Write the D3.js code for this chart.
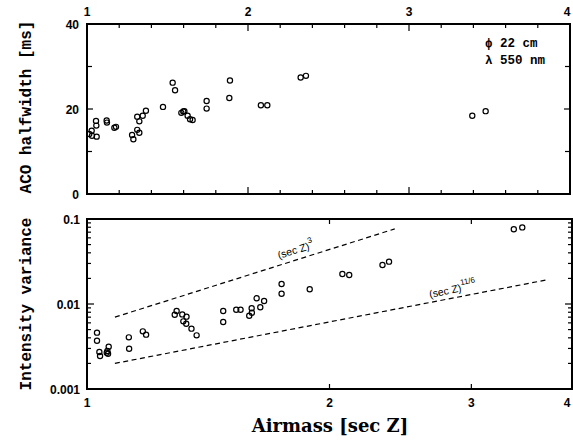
<!DOCTYPE html>
<html><head><meta charset="utf-8">
<script src="https://cdn.jsdelivr.net/npm/d3@7"></script>
<style>body{margin:0;background:#fff}svg{display:block}</style>
</head><body>
<script>
// Top panel: ACO halfwidth [ms] vs airmass
const acoAirmass = [1.014,1.029,1.031,1.06,1.056,1.058,1.122,1.124,1.17,1.18,1.28,1.288,1.312,1.312,1.325,1.325,1.346,1.366,1.472,1.532,1.547,1.586,1.598,1.605,1.625,1.64,1.656,1.743,1.743,1.888,1.884,2.08,2.12,2.327,2.36,3.393,3.476];
const acoHalfwidth = [14.1,14.9,13.7,13.5,17.2,16.1,17.3,16.8,15.6,15.8,13.9,12.9,15.1,18.2,14.4,17.1,18.4,19.6,20.5,26.2,24.4,19.1,19.4,19.5,18.4,17.6,17.4,21.9,20.1,26.7,22.6,20.9,20.9,27.4,27.8,18.4,19.5];
// Bottom panel: intensity variance vs airmass
const varAirmass = [1.029,1.029,1.036,1.038,1.058,1.060,1.064,1.062,1.127,1.128,1.173,1.184,1.285,1.292,1.313,1.329,1.317,1.328,1.348,1.368,1.476,1.476,1.532,1.551,1.590,1.602,1.601,1.624,1.641,1.659,1.744,1.744,1.890,2.075,2.116,2.327,2.371,3.387,3.47];
const varValue = [0.0046,0.0037,0.00272,0.00244,0.00267,0.0028,0.00315,0.0026,0.00405,0.00298,0.00477,0.00436,0.00748,0.00828,0.00754,0.0071,0.00625,0.00586,0.00513,0.00428,0.00828,0.00614,0.00857,0.00857,0.00728,0.0079,0.0089,0.01167,0.00914,0.01084,0.0172,0.0132,0.0149,0.02254,0.0219,0.0288,0.0315,0.0757,0.0797];
// Power-law guide lines (end points)
const secZ3Line = [[1.083,0.0070],[2.41,0.0765]];
const secZ116Line = [[1.083,0.0020],[3.72,0.0192]];
// Tick labels
const topXTicks = [1,2,3,4];
const topYTicks = [0,20,40];
const bottomXTicks = [1,2,3,4];
const bottomYTicks = [0.001,0.01,0.1];
const bottomYTickLabels = ["0.001","0.01","0.1"];

const W=573,H=440;
const svg=d3.select("body").append("svg").attr("width",W).attr("height",H);

const tickFont="'Liberation Sans', Arial, sans-serif";
const monoFont="'Liberation Mono', 'Courier New', monospace";

// ---------- TOP PANEL ----------
const xT=d3.scaleLinear().domain([1,4]).range([87,570]);
const yT=d3.scaleLinear().domain([0,40]).range([194,24]);
const gT=svg.append("g");

const xMinorT=d3.range(1,4.001,0.2);
xMinorT.forEach(v=>{
  const isMaj=Math.abs(v-Math.round(v))<1e-6;
  const L=isMaj?7:4;
  gT.append("line").attr("x1",xT(v)).attr("x2",xT(v)).attr("y1",yT(0)).attr("y2",yT(0)-L).attr("stroke","#000").attr("stroke-width",1.2);
  gT.append("line").attr("x1",xT(v)).attr("x2",xT(v)).attr("y1",yT(40)).attr("y2",yT(40)+L).attr("stroke","#000").attr("stroke-width",1.2);
});
[10,20,30].forEach(v=>{
  const L=v===20?6:5;
  gT.append("line").attr("x1",xT(1)).attr("x2",xT(1)+L).attr("y1",yT(v)).attr("y2",yT(v)).attr("stroke","#000").attr("stroke-width",1.2);
  gT.append("line").attr("x1",xT(4)).attr("x2",xT(4)-L).attr("y1",yT(v)).attr("y2",yT(v)).attr("stroke","#000").attr("stroke-width",1.2);
});
gT.append("rect").attr("x",xT(1)).attr("y",yT(40)).attr("width",xT(4)-xT(1)).attr("height",yT(0)-yT(40))
  .attr("fill","none").attr("stroke","#000").attr("stroke-width",2);

gT.selectAll(".tx").data(topXTicks).enter().append("text")
  .attr("x",d=>Math.min(xT(d),567)).attr("y",16).attr("text-anchor","middle")
  .attr("font-family",tickFont).attr("font-weight","bold").attr("font-size",12).text(d=>d);
gT.selectAll(".ty").data(topYTicks).enter().append("text")
  .attr("x",79).attr("y",d=>yT(d)+4.5).attr("text-anchor","end")
  .attr("font-family",tickFont).attr("font-weight","bold").attr("font-size",12).text(d=>d);

gT.selectAll("circle").data(acoAirmass).enter().append("circle")
  .attr("cx",d=>xT(d)).attr("cy",(d,i)=>yT(acoHalfwidth[i])).attr("r",2.6)
  .attr("fill","none").attr("stroke","#000").attr("stroke-width",1.2);

gT.append("text").attr("x",485).attr("y",47).attr("font-family",monoFont).attr("font-weight","bold").attr("font-size",12.5).text("ϕ 22 cm");
gT.append("text").attr("x",485).attr("y",64).attr("font-family",monoFont).attr("font-weight","bold").attr("font-size",12.5).text("λ 550 nm");

svg.append("text").attr("transform","translate(31,107) rotate(-90)").attr("text-anchor","middle")
  .attr("font-family",monoFont).attr("font-weight","bold").attr("font-size",16).text("ACO halfwidth [ms]");

// ---------- BOTTOM PANEL ----------
const xB=d3.scaleLog().domain([1,4]).range([87,572]);
const yB=d3.scaleLog().domain([0.001,0.1]).range([389,219]);
const gB=svg.append("g");

[2,3].forEach(v=>{
  gB.append("line").attr("x1",xB(v)).attr("x2",xB(v)).attr("y1",yB(0.001)).attr("y2",yB(0.001)-5).attr("stroke","#000").attr("stroke-width",1.2);
  gB.append("line").attr("x1",xB(v)).attr("x2",xB(v)).attr("y1",yB(0.1)).attr("y2",yB(0.1)+5).attr("stroke","#000").attr("stroke-width",1.2);
});
const yMinorB=[];
[0.001,0.01].forEach(d=>{for(let k=1;k<=9;k++)yMinorB.push(d*k);});
yMinorB.forEach(v=>{
  const isMaj=Math.abs(Math.log10(v)-Math.round(Math.log10(v)))<1e-6;
  const L=isMaj?7:4;
  gB.append("line").attr("x1",xB(1)).attr("x2",xB(1)+L).attr("y1",yB(v)).attr("y2",yB(v)).attr("stroke","#000").attr("stroke-width",1.2);
  gB.append("line").attr("x1",xB(4)).attr("x2",xB(4)-L).attr("y1",yB(v)).attr("y2",yB(v)).attr("stroke","#000").attr("stroke-width",1.2);
});
gB.append("rect").attr("x",xB(1)).attr("y",yB(0.1)).attr("width",xB(4)-xB(1)).attr("height",yB(0.001)-yB(0.1))
  .attr("fill","none").attr("stroke","#000").attr("stroke-width",2);

gB.selectAll(".bx").data(bottomXTicks).enter().append("text")
  .attr("x",d=>Math.min(xB(d),567)).attr("y",407).attr("text-anchor","middle")
  .attr("font-family",tickFont).attr("font-weight","bold").attr("font-size",12).text(d=>d);
gB.selectAll(".by").data(bottomYTicks).enter().append("text")
  .attr("x",80).attr("y",d=>yB(d)+4.5).attr("text-anchor","end")
  .attr("font-family",tickFont).attr("font-weight","bold").attr("font-size",12).text((d,i)=>bottomYTickLabels[i]);

const lineGen=d3.line().x(d=>xB(d[0])).y(d=>yB(d[1]));
[secZ3Line,secZ116Line].forEach(L=>{
  gB.append("path").attr("d",lineGen(L)).attr("fill","none").attr("stroke","#000")
    .attr("stroke-width",1.2).attr("stroke-dasharray","5,3.5");
});

gB.selectAll("circle").data(varAirmass).enter().append("circle")
  .attr("cx",d=>xB(d)).attr("cy",(d,i)=>yB(varValue[i])).attr("r",2.6)
  .attr("fill","none").attr("stroke","#000").attr("stroke-width",1.2);

const a1=Math.atan2(yB(secZ3Line[1][1])-yB(secZ3Line[0][1]),xB(secZ3Line[1][0])-xB(secZ3Line[0][0]))*180/Math.PI;
const t1=gB.append("text").attr("transform",`translate(279,259) rotate(${a1})`)
  .attr("font-family",tickFont).attr("font-size",10.5);
t1.append("tspan").text("(sec Z)");
t1.append("tspan").attr("dy",-6).attr("font-size",8).text("3");

const a2=Math.atan2(yB(secZ116Line[1][1])-yB(secZ116Line[0][1]),xB(secZ116Line[1][0])-xB(secZ116Line[0][0]))*180/Math.PI;
const t2=gB.append("text").attr("transform",`translate(430,298) rotate(${a2-1})`)
  .attr("font-family",tickFont).attr("font-size",10.5);
t2.append("tspan").text("(sec Z)");
t2.append("tspan").attr("dy",-6).attr("font-size",8).text("11/6");

svg.append("text").attr("transform","translate(31,304) rotate(-90)").attr("text-anchor","middle")
  .attr("font-family",monoFont).attr("font-weight","bold").attr("font-size",16).text("Intensity variance");

svg.append("text").attr("x",330).attr("y",432).attr("text-anchor","middle")
  .attr("font-family","'DejaVu Serif', serif").attr("font-weight","bold").attr("font-size",18).text("Airmass [sec Z]");
</script>
</body></html>
